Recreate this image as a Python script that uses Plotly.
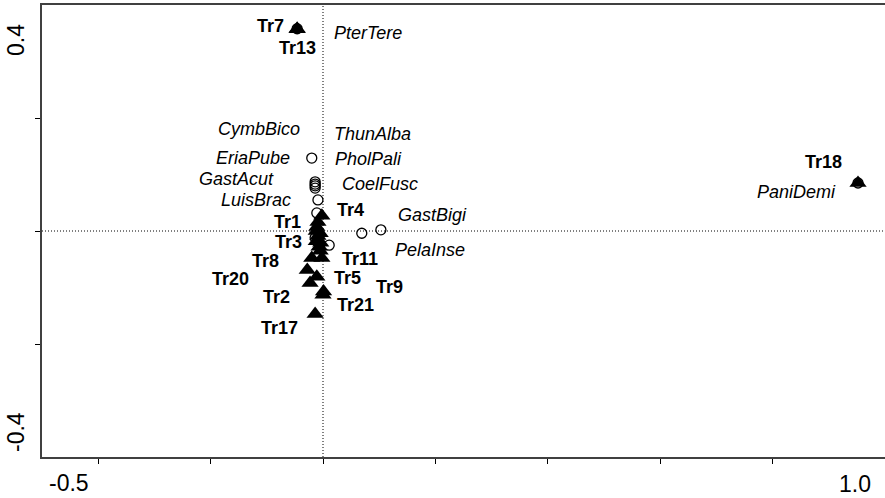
import plotly.graph_objects as go

# ---- Sample scores (triangles) ----
sample_names = ["Tr1", "Tr2", "Tr3", "Tr4", "Tr5", "Tr6", "Tr7", "Tr8", "Tr9", "Tr10", "Tr11",
                "Tr12", "Tr13", "Tr14", "Tr15", "Tr16", "Tr17", "Tr18", "Tr19", "Tr20", "Tr21"]
sample_x = [-0.011, -0.023, -0.012, -0.002, -0.011, -0.005, -0.046, -0.020, 0.001, -0.007, -0.002,
            -0.009, -0.046, -0.004, -0.012, -0.005, -0.014, 0.952, -0.009, -0.028, 0.000]
sample_y = [0.007, -0.092, -0.018, 0.027, -0.081, -0.004, 0.358, -0.048, -0.107, -0.028, -0.048,
            -0.009, 0.357, -0.021, 0.000, -0.035, -0.147, 0.085, 0.016, -0.069, -0.113]
# labels shown on the chart (empty = label hidden in the cluster)
sample_labels = ["Tr1", "Tr2", "Tr3", "Tr4", "Tr5", "", "Tr7", "Tr8", "Tr9", "", "Tr11",
                 "", "Tr13", "", "", "", "Tr17", "Tr18", "", "Tr20", "Tr21"]
# label offsets in pixels (dx right, dy down)
sample_dx = [-29, -34, -28, 29, 31, 0, -27, -46, 66, 0, 38, 0, 0, 0, 0, 0, -36, -35, 0, -77, 32]
sample_dy = [-5, 14, 1, -6, 1, 0, -3, 3, -4, 0, 1, 0, 19, 0, 0, 0, 14, -21, 0, 9, 10]

# ---- Species scores (open circles) ----
species_names = ["PterTere", "PaniDemi", "EriaPube", "CymbBico", "ThunAlba", "PholPali",
                 "GastAcut", "LuisBrac", "CoelFusc", "GastBigi", "PelaInse", "", ""]
species_x = [-0.046, 0.952, -0.020, -0.014, -0.014, -0.014, -0.014, -0.009, -0.011, 0.103, 0.069,
             -0.014, 0.011]
species_y = [0.358, 0.085, 0.129, 0.087, 0.083, 0.080, 0.076, 0.055, 0.032, 0.002, -0.004,
             -0.012, -0.025]
species_dx = [71, -62, -59, -56, 57, 53, -79, -62, 63, 52, 68, 0, 0]
species_dy = [4, 9, 0, -53, -50, -27, -9, 0, -29, -15, 17, 0, 0]

# ---- Axis ----
x_range = [-0.5, 1.0]
y_range = [-0.4, 0.4]
x_ticks = [-0.4, -0.2, 0.0, 0.2, 0.4, 0.6, 0.8]
y_ticks = [-0.2, 0.0, 0.2]
x_end_labels = ["-0.5", "1.0"]
y_end_labels = ["0.4", "-0.4"]

FONT = "Arial, Liberation Sans, Helvetica, sans-serif"

fig = go.Figure()

fig.add_trace(go.Scatter(
    x=species_x, y=species_y, mode="markers",
    marker=dict(symbol="circle-open", size=10, color="black", line=dict(width=1.3, color="black")),
    hoverinfo="skip", showlegend=False))

fig.add_trace(go.Scatter(
    x=sample_x, y=sample_y, mode="markers",
    marker=dict(symbol="triangle-up", size=15, color="black", line=dict(width=0)),
    hoverinfo="skip", showlegend=False))

# dotted zero lines
fig.add_shape(type="line", xref="x", yref="paper", x0=0, x1=0, y0=0, y1=1,
              line=dict(color="black", width=1, dash="1px,2px"))
fig.add_shape(type="line", xref="paper", yref="y", x0=0, x1=1, y0=0, y1=0,
              line=dict(color="black", width=1, dash="1px,2px"))

annotations = []
for name, x, y, dx, dy in zip(sample_labels, sample_x, sample_y, sample_dx, sample_dy):
    if name:
        annotations.append(dict(x=x, y=y, xref="x", yref="y", text="<b>%s</b>" % name,
                                showarrow=False, xanchor="center", yanchor="middle",
                                xshift=dx, yshift=-dy,
                                font=dict(family=FONT, size=18, color="black")))
for name, x, y, dx, dy in zip(species_names, species_x, species_y, species_dx, species_dy):
    if name:
        annotations.append(dict(x=x, y=y, xref="x", yref="y", text="<i>%s</i>" % name,
                                showarrow=False, xanchor="center", yanchor="middle",
                                xshift=dx, yshift=-dy,
                                font=dict(family=FONT, size=18, color="black")))

# end labels of the axes
annotations.append(dict(x=x_range[0], y=0, xref="x", yref="paper", text=x_end_labels[0],
                        showarrow=False, xanchor="center", yanchor="middle", xshift=27, yshift=-26,
                        font=dict(family=FONT, size=23, color="black")))
annotations.append(dict(x=x_range[1], y=0, xref="x", yref="paper", text=x_end_labels[1],
                        showarrow=False, xanchor="center", yanchor="middle", xshift=-30, yshift=-27,
                        font=dict(family=FONT, size=23, color="black")))
annotations.append(dict(x=0, y=y_range[1], xref="paper", yref="y", text=y_end_labels[0],
                        showarrow=False, xanchor="center", yanchor="middle", xshift=-26, yshift=-35,
                        textangle=-90, font=dict(family=FONT, size=23, color="black")))
annotations.append(dict(x=0, y=y_range[0], xref="paper", yref="y", text=y_end_labels[1],
                        showarrow=False, xanchor="center", yanchor="middle", xshift=-26, yshift=25,
                        textangle=-90, font=dict(family=FONT, size=23, color="black")))

fig.update_layout(
    width=885, height=498,
    margin=dict(l=42, r=0, t=5, b=41),
    paper_bgcolor="white", plot_bgcolor="white",
    annotations=annotations,
    xaxis=dict(range=x_range, showgrid=False, zeroline=False, showline=True, mirror=True,
               linecolor="#404040", linewidth=2, ticks="outside", ticklen=5, tickwidth=1,
               tickcolor="black", tickvals=x_ticks, showticklabels=False, fixedrange=True),
    yaxis=dict(range=y_range, showgrid=False, zeroline=False, showline=True, mirror=False,
               linecolor="#404040", linewidth=2, ticks="outside", ticklen=5, tickwidth=1,
               tickcolor="black", tickvals=y_ticks, showticklabels=False, fixedrange=True),
)

fig.write_html("out.html")
